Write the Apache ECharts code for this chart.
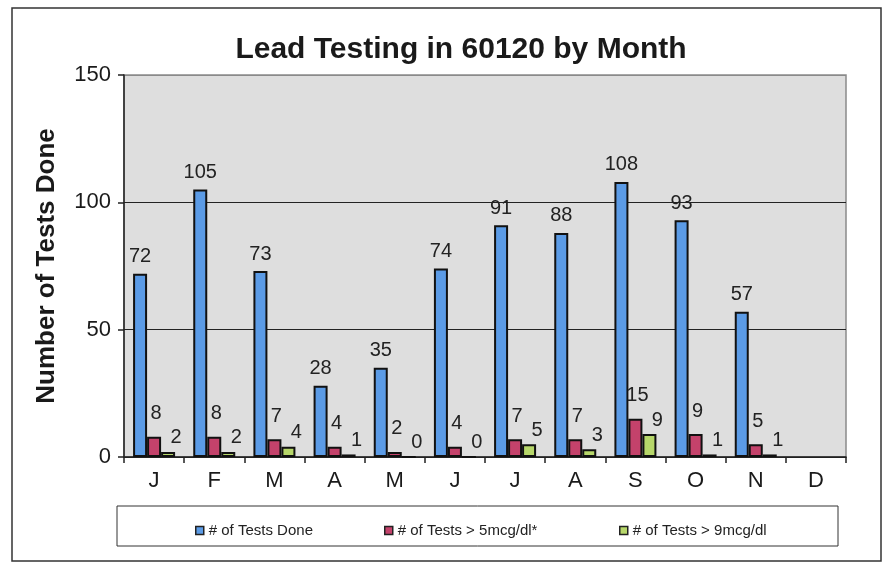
<!DOCTYPE html>
<html>
<head>
<meta charset="utf-8">
<script src="https://cdn.jsdelivr.net/npm/echarts@6/dist/echarts.min.js"></script>
<style>
  html, body { margin: 0; padding: 0; background: #fff; }
  #chart { width: 886px; height: 563px; }
</style>
</head>
<body>
<div id="chart"></div>
<script>
// months (D has no data yet)
var months = ['J', 'F', 'M', 'A', 'M', 'J', 'J', 'A', 'S', 'O', 'N', 'D'];
var testsDone = [72, 105, 73, 28, 35, 74, 91, 88, 108, 93, 57, null];
var testsOver5 = [8, 8, 7, 4, 2, 4, 7, 7, 15, 9, 5, null];
var testsOver9 = [2, 2, 4, 1, 0, 0, 5, 3, 9, 1, 1, null];
var yTicks = { min: 0, max: 150, interval: 50 };

var FONT = 'Liberation Sans';
var chart = echarts.init(document.getElementById('chart'));

var legendItem = function (name, left) {
    return {
        data: [name],
        left: left,
        top: 518,
        icon: 'rect',
        itemWidth: 8,
        itemHeight: 8,
        itemGap: 4,
        itemStyle: { borderColor: '#222', borderWidth: 1.5 },
        textStyle: { fontFamily: FONT, fontSize: 15, color: '#222' },
        selectedMode: false
    };
};

var barLabel = function (dist, off) {
    return {
        show: true,
        position: 'top',
        distance: dist,
        offset: off,
        fontFamily: FONT,
        fontSize: 20,
        color: '#222'
    };
};

chart.setOption({
    animation: false,
    backgroundColor: '#fff',
    title: {
        text: 'Lead Testing in 60120 by Month',
        left: 456,
        textAlign: 'center',
        top: 30,
        textStyle: { fontFamily: FONT, fontSize: 30, fontWeight: 'bold', color: '#1a1a1a' }
    },
    graphic: [
        {   // outer frame
            type: 'rect',
            shape: { x: 12, y: 8, width: 869, height: 553 },
            style: { fill: 'none', stroke: '#333', lineWidth: 1.5 },
            silent: true
        },
        {   // legend box
            type: 'rect',
            shape: { x: 117, y: 506, width: 721, height: 40 },
            style: { fill: '#fff', stroke: '#333', lineWidth: 1 },
            silent: true
        }
    ],
    legend: [
        legendItem('# of Tests Done', 190),
        legendItem('# of Tests > 5mcg/dl*', 379),
        legendItem('# of Tests > 9mcg/dl', 614)
    ],
    grid: {
        left: 124,
        right: 40,
        top: 75,
        bottom: 106,
        show: true,
        backgroundColor: '#dedede',
        borderColor: '#8a8a8a',
        borderWidth: 1.5
    },
    xAxis: {
        type: 'category',
        data: months,
        axisLine: { lineStyle: { color: '#222', width: 1.5 } },
        axisTick: { show: true, length: 6, lineStyle: { color: '#222', width: 1.5 } },
        axisLabel: { fontFamily: FONT, fontSize: 22, color: '#1a1a1a', margin: 13 }
    },
    yAxis: {
        type: 'value',
        min: yTicks.min,
        max: yTicks.max,
        interval: yTicks.interval,
        name: 'Number of Tests Done',
        nameLocation: 'middle',
        nameGap: 64,
        nameTextStyle: { fontFamily: FONT, fontSize: 26, fontWeight: 'bold', color: '#1a1a1a' },
        axisLine: { show: true, lineStyle: { color: '#222', width: 1.5 } },
        axisTick: { show: true, length: 6, lineStyle: { color: '#222', width: 1.5 } },
        axisLabel: { fontFamily: FONT, fontSize: 22, color: '#1a1a1a', margin: 13 },
        splitLine: { show: true, lineStyle: { color: ['#222', '#222', '#222', '#8a8a8a'], width: 1.2 } }
    },
    series: [
        {
            name: '# of Tests Done',
            type: 'bar',
            data: testsDone,
            barWidth: 14,
            barGap: '0%',
            itemStyle: { color: '#5b9be6', borderColor: '#111', borderWidth: 2 },
            label: barLabel(7, [0, 0])
        },
        {
            name: '# of Tests > 5mcg/dl*',
            type: 'bar',
            data: testsOver5,
            barWidth: 14,
            barGap: '0%',
            itemStyle: { color: '#c4426b', borderColor: '#111', borderWidth: 2 },
            label: barLabel(13, [2, 0])
        },
        {
            name: '# of Tests > 9mcg/dl',
            type: 'bar',
            data: testsOver9,
            barWidth: 14,
            barGap: '0%',
            itemStyle: { color: '#b7d76a', borderColor: '#111', borderWidth: 2 },
            label: barLabel(4, [8, 0])
        }
    ]
});
</script>
</body>
</html>
